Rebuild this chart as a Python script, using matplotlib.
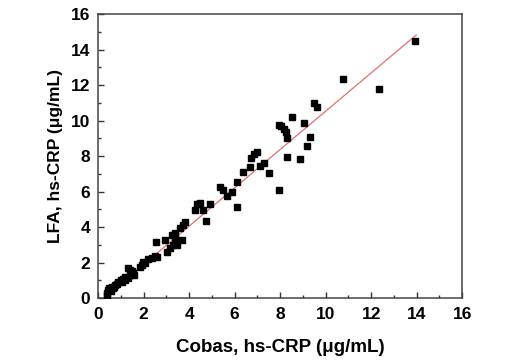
import matplotlib.pyplot as plt
from matplotlib.ticker import MultipleLocator

# Cobas vs LFA hs-CRP (ug/mL)
cobas = [0.41, 0.38, 0.45, 0.50, 0.55, 0.60, 0.65, 0.70, 0.75, 0.85, 0.89,
         1.00, 1.04, 1.10, 1.19, 1.20, 1.33, 1.33, 1.41, 1.41, 1.50, 1.55,
         1.60, 1.85, 1.92, 1.99, 2.05, 2.21, 2.36, 2.50, 2.58, 2.53, 2.95,
         3.02, 3.16, 3.24, 3.30, 3.35, 3.38, 3.38, 3.46, 3.60, 3.68, 3.75,
         3.82, 4.26, 4.34, 4.48, 4.63, 4.75, 4.92, 5.36, 5.47, 5.65, 5.88,
         6.09, 6.09, 6.36, 6.68, 6.73, 6.87, 6.97, 7.12, 7.30, 7.50, 7.93,
         7.97, 8.04, 8.16, 8.25, 8.32, 8.32, 8.54, 8.87, 9.03, 9.17, 9.30,
         9.50, 9.61, 10.78, 12.34, 13.93]
lfa = [0.17, 0.26, 0.45, 0.55, 0.40, 0.64, 0.55, 0.60, 0.73, 0.80, 0.92,
       1.00, 0.92, 1.05, 1.01, 1.20, 1.11, 1.67, 1.30, 1.58, 1.50, 1.39,
       1.30, 1.76, 1.86, 2.05, 1.95, 2.18, 2.24, 2.35, 2.33, 3.14, 3.27,
       2.61, 2.80, 3.55, 3.00, 3.55, 3.36, 3.65, 2.99, 3.93, 3.27, 4.11,
       4.30, 4.96, 5.28, 5.37, 4.96, 4.36, 5.28, 6.24, 6.08, 5.76, 5.95,
       6.52, 5.11, 7.12, 7.38, 7.90, 8.10, 8.24, 7.45, 7.62, 7.04, 9.75,
       6.10, 9.69, 9.50, 9.33, 9.00, 7.94, 10.18, 7.81, 9.84, 8.55, 9.07,
       10.97, 10.78, 12.32, 11.76, 14.48]

# fitted line ends
fit_x = [0.31, 13.98]
fit_y = [0.07, 14.82]

plt.rcParams['font.family'] = ['Liberation Sans', 'DejaVu Sans']

fig = plt.figure(figsize=(5.3, 3.6), dpi=100)
ax = fig.add_axes([0.185, 0.172, 0.687, 0.789])

ax.plot(fit_x, fit_y, color="#e07070", linewidth=0.9, zorder=2)
ax.plot(cobas, lfa, linestyle="none", marker="s", markersize=4.2,
        color="black", zorder=3)

ax.set_xlim(0, 16)
ax.set_ylim(0, 16)
ax.xaxis.set_major_locator(MultipleLocator(2))
ax.yaxis.set_major_locator(MultipleLocator(2))
ax.xaxis.set_minor_locator(MultipleLocator(1))
ax.yaxis.set_minor_locator(MultipleLocator(1))
ax.tick_params(which="both", direction="in", top=False, right=False,
               width=1.0, colors="#333333")
ax.tick_params(which="major", length=4.5, labelsize=12.5, labelcolor="black")
ax.tick_params(axis="x", which="major", pad=6.5)
ax.tick_params(axis="y", which="major", pad=5.5)
ax.tick_params(which="minor", length=2.5)
for lab in ax.get_xticklabels() + ax.get_yticklabels():
    lab.set_fontweight("bold")
for sp in ax.spines.values():
    sp.set_linewidth(1.1)
    sp.set_color("#444444")

ax.set_xlabel("Cobas, hs-CRP (\u03bcg/mL)", fontsize=13.5, fontweight="bold", labelpad=12)
ax.set_ylabel("LFA, hs-CRP (\u03bcg/mL)", fontsize=12.5, fontweight="bold", labelpad=6)

fig.savefig("out.png", dpi=100)
